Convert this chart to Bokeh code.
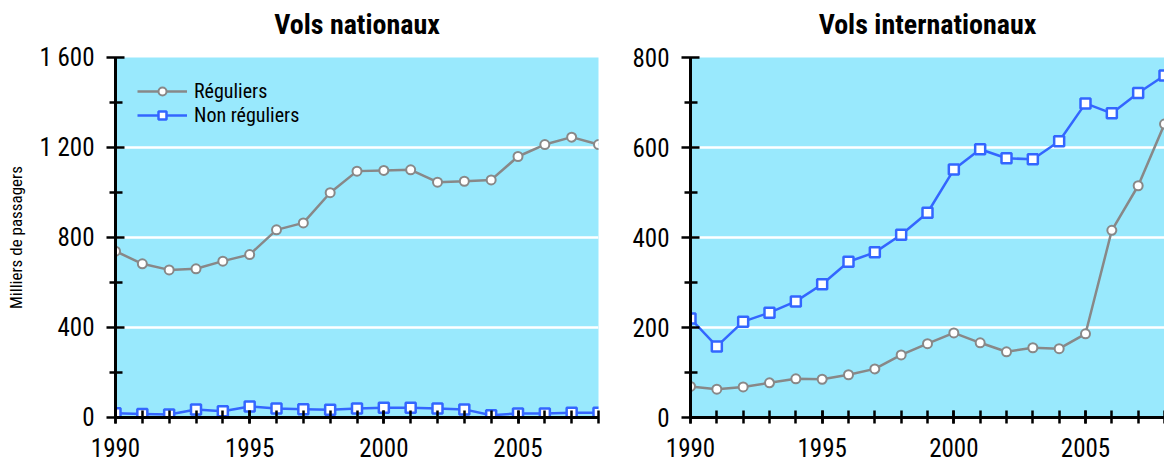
from bokeh.plotting import figure
from bokeh.layouts import row
from bokeh.models import FixedTicker, Legend, LegendItem, Range1d
from bokeh.embed import file_html
from bokeh.resources import INLINE

years = list(range(1990, 2009))

# Vols nationaux (milliers de passagers)
nat_reguliers = [739, 683, 656, 661, 695, 724, 834, 865, 999, 1095, 1098, 1101,
                 1046, 1050, 1056, 1160, 1213, 1246, 1213]
nat_non_reguliers = [19, 16, 13, 36, 28, 49, 40, 37, 34, 40, 43, 43,
                     40, 36, 10, 18, 18, 21, 21]

# Vols internationaux (milliers de passagers)
int_reguliers = [69, 63, 68, 77, 86, 85, 95, 108, 139, 164, 188, 166,
                 146, 155, 153, 186, 416, 515, 652]
int_non_reguliers = [220, 158, 213, 233, 258, 296, 346, 367, 406, 455, 551, 596,
                     576, 574, 614, 698, 676, 721, 760]

x_major = [1990, 1995, 2000, 2005]
nat_y_major = [0, 400, 800, 1200, 1600]
nat_y_minor = [200, 600, 1000, 1400]
nat_y_labels = {0: "0", 400: "400", 800: "800", 1200: "1 200", 1600: "1 600"}
int_y_major = [0, 200, 400, 600, 800]
int_y_minor = [100, 300, 500, 700]

FONT = "Roboto Condensed"
BG = "#99e9fd"
GRAY = "#888888"
BLUE = "#3366ff"
SHIFT = 12  # the row is pulled up so that the title can sit higher


def make_panel(title, reg, nonreg, ymax, ymajor, yminor, ylabels, width, bl, br, ylabel):
    p = figure(width=width, height=462 + SHIFT, output_backend="svg",
               toolbar_location=None,
               x_range=Range1d(years[0], years[-1]), y_range=Range1d(0, ymax),
               min_border_left=bl, min_border_right=br, min_border_top=57 + SHIFT,
               min_border_bottom=45, background_fill_color=BG,
               border_fill_color="white", outline_line_color=None)
    p.title.text = title
    p.title.align = "center"
    p.title.text_font = FONT
    p.title.text_font_size = "28px"
    p.title.text_font_style = "bold"
    p.title.text_color = "black"
    p.title.standoff = 33

    xa = p.xaxis[0]
    xa.ticker = FixedTicker(ticks=x_major, minor_ticks=years)
    xa.axis_line_width = 3
    xa.major_tick_line_width = 2.5
    xa.minor_tick_line_width = 2.5
    xa.major_tick_in = 7
    xa.major_tick_out = 6
    xa.minor_tick_in = 7
    xa.minor_tick_out = 6
    xa.major_label_text_font = FONT
    xa.major_label_text_font_size = "25px"
    xa.major_label_text_color = "black"
    xa.major_label_standoff = 14

    ya = p.yaxis[0]
    ya.ticker = FixedTicker(ticks=ymajor, minor_ticks=yminor)
    ya.major_label_overrides = ylabels
    ya.axis_line_width = 3
    ya.major_tick_line_width = 2.5
    ya.minor_tick_line_width = 2.5
    ya.major_tick_in = 9
    ya.major_tick_out = 9
    ya.minor_tick_in = 7
    ya.minor_tick_out = 6
    ya.major_label_text_font = FONT
    ya.major_label_text_font_size = "25px"
    ya.major_label_text_color = "black"
    ya.major_label_standoff = 12
    if ylabel:
        ya.axis_label = ylabel
        ya.axis_label_text_font = FONT
        ya.axis_label_text_font_size = "17px"
        ya.axis_label_text_font_style = "normal"
        ya.axis_label_text_color = "black"
        ya.axis_label_standoff = 10

    p.xgrid.visible = False
    p.ygrid.ticker = FixedTicker(ticks=ymajor)
    p.ygrid.grid_line_color = "white"
    p.ygrid.grid_line_width = 2.5

    l1 = p.line(years, reg, line_color=GRAY, line_width=2.5)
    s1 = p.scatter(years, reg, marker="circle", size=9, fill_color="white",
                   line_color=GRAY, line_width=2)
    l2 = p.line(years, nonreg, line_color=BLUE, line_width=2.5)
    s2 = p.scatter(years, nonreg, marker="square", size=10, fill_color="white",
                   line_color=BLUE, line_width=2.5)
    return p, (l1, s1, l2, s2)


p1, r1 = make_panel("Vols nationaux", nat_reguliers, nat_non_reguliers, 1600,
                    nat_y_major, nat_y_minor, nat_y_labels, 628, 115, 30,
                    "Milliers de passagers")
p2, r2 = make_panel("Vols internationaux", int_reguliers, int_non_reguliers, 800,
                    int_y_major, int_y_minor, {}, 536, 62, 0, None)

legend = Legend(items=[LegendItem(label="Réguliers", renderers=[r1[0], r1[1]]),
                       LegendItem(label="Non réguliers", renderers=[r1[2], r1[3]])],
                location="top_left", margin=22, padding=0, spacing=0,
                glyph_width=50, glyph_height=20, label_height=20, label_standoff=7,
                background_fill_alpha=0, border_line_color=None,
                label_text_font=FONT, label_text_font_size="20px",
                label_text_color="black")
p1.add_layout(legend)

layout = row(p1, p2, styles={"margin-top": f"-{SHIFT}px"})
open("out.html", "w").write(file_html(layout, INLINE))
